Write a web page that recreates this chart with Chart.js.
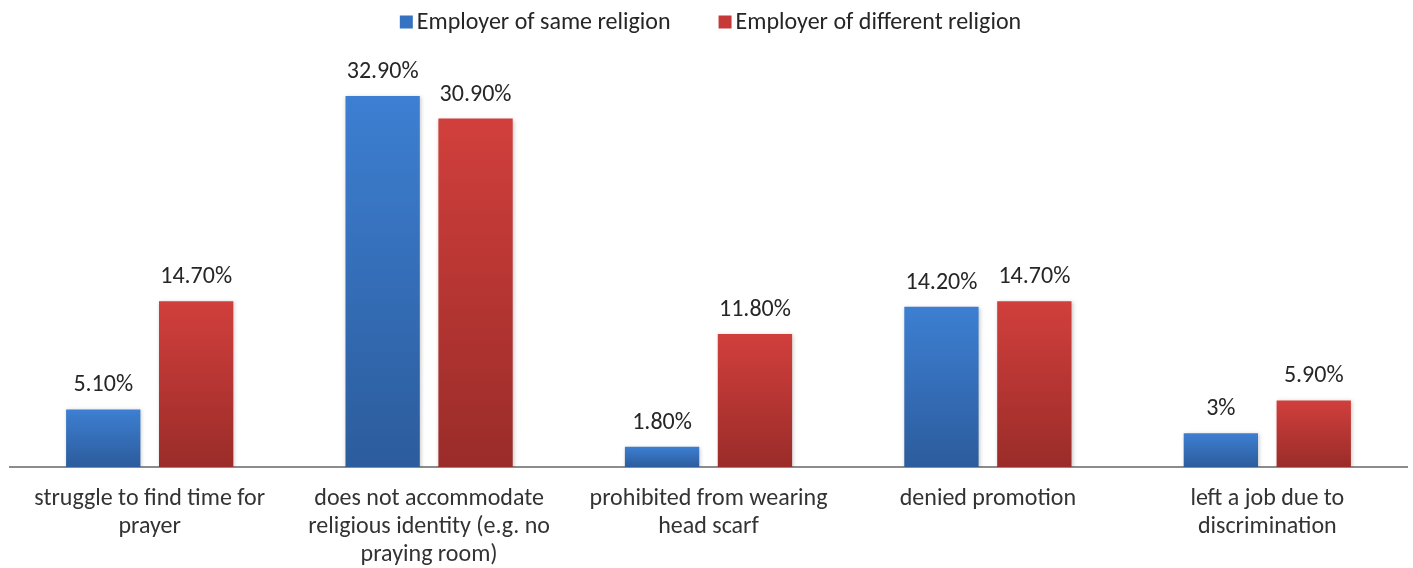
<!DOCTYPE html>
<html>
<head>
<meta charset="utf-8">
<script src="https://cdn.jsdelivr.net/npm/chart.js@4.4.0/dist/chart.umd.min.js"></script>
<style>
  html, body { margin: 0; padding: 0; background: #fff; }
  #wrap { width: 1413px; height: 568px; }
</style>
</head>
<body>
<div id="wrap"><canvas id="bars"></canvas></div>
<script>
// data
const categories = [
  ["struggle to find time for", "prayer"],
  ["does not accommodate", "religious identity (e.g. no", "praying room)"],
  ["prohibited from wearing", "head scarf"],
  ["denied promotion"],
  ["left a job due to", "discrimination"]
];
const seriesNames = ["Employer of same religion", "Employer of different religion"];
const sameReligion = [5.1, 32.9, 1.8, 14.2, 3.0];
const diffReligion = [14.7, 30.9, 11.8, 14.7, 5.9];
const sameLabels = ["5.10%", "32.90%", "1.80%", "14.20%", "3%"];
const diffLabels = ["14.70%", "30.90%", "11.80%", "14.70%", "5.90%"];

const FONT = "Carlito, Lato, 'Open Sans', sans-serif";
const FSIZE = 24;
const keyColors = ["#3572c2", "#c73937"];

// each bar gets its own top-to-bottom gradient
function shade(light, dark) {
  return function (ctx) {
    const chart = ctx.chart;
    const y = chart.scales && chart.scales.y;
    if (!y || ctx.raw === undefined) return light;
    const top = y.getPixelForValue(ctx.raw);
    const bot = y.getPixelForValue(0);
    if (!isFinite(top) || !isFinite(bot) || top === bot) return light;
    const g = chart.ctx.createLinearGradient(0, top, 0, bot);
    g.addColorStop(0, light);
    g.addColorStop(1, dark);
    return g;
  };
}

const valueLabels = {
  id: "valueLabels",
  afterDatasetsDraw(chart) {
    const c = chart.ctx;
    const texts = [sameLabels, diffLabels];
    c.save();
    c.font = FSIZE + "px " + FONT;
    c.fillStyle = "#262626";
    c.textAlign = "center";
    c.textBaseline = "alphabetic";
    chart.data.datasets.forEach((ds, i) => {
      chart.getDatasetMeta(i).data.forEach((bar, j) => {
        c.fillText(texts[i][j], bar.x, bar.y - 18);
      });
    });
    c.restore();
  }
};

// small legend drawn like the office one: tight box/text gap, wide item gap
const topKey = {
  id: "topKey",
  afterDraw(chart) {
    const c = chart.ctx;
    const box = 13, gapIn = 4, gapOut = 48, cy = 22;
    c.save();
    c.font = FSIZE + "px " + FONT;
    c.textBaseline = "middle";
    c.textAlign = "left";
    const widths = seriesNames.map(t => c.measureText(t).width);
    let total = 0;
    widths.forEach((w, i) => { total += box + gapIn + w + (i ? gapOut : 0); });
    const area = chart.chartArea;
    let x = (area.left + area.right) / 2 - total / 2 + 2;
    seriesNames.forEach((t, i) => {
      c.fillStyle = keyColors[i];
      c.fillRect(x, cy - box / 2, box, box);
      x += box + gapIn;
      c.fillStyle = "#262626";
      c.fillText(t, x, cy + 1);
      x += widths[i] + gapOut;
    });
    c.restore();
  }
};

const barShadow = {
  id: "barShadow",
  beforeDatasetsDraw(chart) {
    const c = chart.ctx;
    c.save();
    c.shadowColor = "rgba(0,0,0,0.22)";
    c.shadowBlur = 4;
    c.shadowOffsetX = 1;
    c.shadowOffsetY = 1;
  },
  afterDatasetsDraw(chart) {
    chart.ctx.restore();
  }
};

new Chart(document.getElementById("bars"), {
  type: "bar",
  data: {
    labels: categories,
    datasets: [
      {
        label: seriesNames[0],
        data: sameReligion,
        backgroundColor: shade("#3d7fd2", "#2c5c9c")
      },
      {
        label: seriesNames[1],
        data: diffReligion,
        backgroundColor: shade("#d13f3c", "#9a2c29")
      }
    ]
  },
  options: {
    responsive: true,
    maintainAspectRatio: false,
    animation: false,
    categoryPercentage: 0.665,
    barPercentage: 0.8,
    layout: { padding: { left: 10, right: 6, top: 61, bottom: -11 } },
    plugins: {
      legend: { display: false },
      tooltip: { enabled: false }
    },
    scales: {
      x: {
        grid: { display: false },
        border: { display: true, color: "#8c8c8c", width: 2 },
        ticks: {
          font: { family: FONT, size: FSIZE, lineHeight: "28px" },
          color: "#333333",
          maxRotation: 0,
          autoSkip: false,
          padding: 10
        }
      },
      y: {
        display: false,
        min: 0,
        max: 36
      }
    }
  },
  plugins: [barShadow, valueLabels, topKey]
});
</script>
</body>
</html>
